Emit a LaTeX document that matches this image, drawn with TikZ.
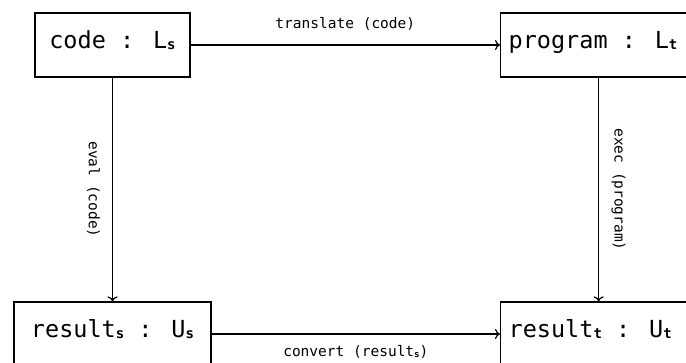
\documentclass[tikz,border=0pt]{standalone}
\usepackage{fontspec}
\setmainfont{DejaVu Sans Mono}
\usetikzlibrary{arrows.meta}
\newcommand{\bigsub}[1]{\raisebox{-1.2pt}{\fontsize{14}{14}\selectfont\bfseries #1}}
\newcommand{\smallsub}[1]{\raisebox{-0.8pt}{\fontsize{9}{9}\selectfont\bfseries #1}}
\newcommand{\lefttext}[1]{\makebox[180pt][l]{#1}}
\begin{document}
\begin{tikzpicture}[x=1pt,y=-1pt,
  box/.style={draw,line width=1.3pt,minimum height=64pt,inner xsep=8pt,
    font=\fontsize{23.5}{28}\selectfont,text depth=0.2em,text height=0.8em},
  conn/.style={line width=1.2pt,-{To[length=5pt,width=10pt,line width=1.2pt]}},
  lbl/.style={font=\fontsize{14.5}{18}\selectfont,inner sep=0pt}]
\useasboundingbox (0,0) rectangle (686,362);
\clip (0,0) rectangle (686,362);
\node[box,minimum width=155pt] (code) at (112.5,45) {code : L\bigsub{s}};
\node[box,anchor=west] (prog) at (500,45) {\lefttext{program : L\bigsub{t}}};
\node[box,minimum width=197pt] (rs) at (112.5,334) {result\bigsub{s} : U\bigsub{s}};
\node[box,anchor=west] (rt) at (500,334) {\lefttext{result\bigsub{t} : U\bigsub{t}}};
\draw[conn] (code.east) -- node[lbl,above=14pt] (l1) {translate (code)} (prog.west);
\draw[conn] (code.south) -- coordinate[midway] (m1) (code.south |- rs.north);
\draw[conn] (prog.south) -- coordinate[midway] (m2) (prog.south |- rt.north);
\node[lbl,rotate=-90] (l2) at ([xshift=-19pt]m1) {eval (code)};
\node[lbl,rotate=-90] (l3) at ([xshift=20pt]m2) {exec (program)};
\draw[conn] (rs.east) -- node[lbl,below=11pt] (l4) {convert (result\smallsub{s})} (rt.west);
\end{tikzpicture}
\end{document}
